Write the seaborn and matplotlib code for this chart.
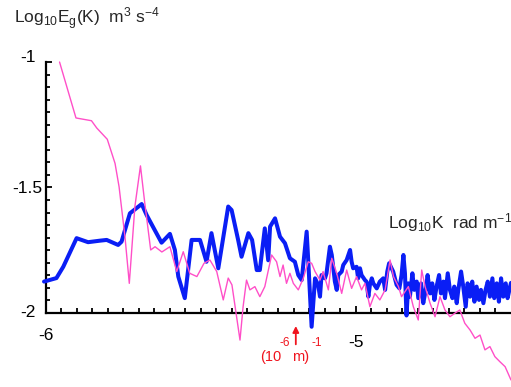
import numpy as np
import pandas as pd
import matplotlib
matplotlib.use("Agg")
import matplotlib.pyplot as plt
import matplotlib.transforms as mtransforms
from matplotlib.ticker import FixedLocator
import seaborn as sns

# ---- data (log10 K, log10 Eg) ----
blue_x = [-6.005, -5.965, -5.943, -5.900, -5.863, -5.825, -5.803, -5.766, -5.755, -5.728,
          -5.690, -5.674, -5.626, -5.599, -5.583, -5.572, -5.551, -5.529, -5.502, -5.481,
          -5.465, -5.443, -5.411, -5.400, -5.379, -5.368, -5.346, -5.334, -5.319, -5.309,
          -5.293, -5.282, -5.276, -5.260, -5.244, -5.228, -5.212, -5.196, -5.185, -5.174,
          -5.164, -5.158, -5.153, -5.142,
          -5.131, -5.121, -5.115, -5.110, -5.099, -5.094, -5.083, -5.077, -5.072, -5.067,
          -5.061, -5.056, -5.045, -5.040, -5.029, -5.018, -5.013, -5.008, -4.997, -4.992,
          -4.986, -4.981, -4.970, -4.965, -4.959, -4.954, -4.948, -4.943, -4.932, -4.922,
          -4.911, -4.905, -4.898, -4.892, -4.884, -4.879, -4.868, -4.859, -4.852, -4.846,
          -4.841,
          -4.836, -4.830, -4.825, -4.817, -4.811, -4.803, -4.798, -4.789, -4.782, -4.774,
          -4.768, -4.760, -4.753, -4.746, -4.739, -4.731, -4.725, -4.717, -4.712, -4.703,
          -4.696, -4.688, -4.682, -4.674, -4.669, -4.660, -4.653, -4.645, -4.639, -4.631,
          -4.624, -4.617, -4.610, -4.602, -4.596, -4.588, -4.581, -4.574, -4.567, -4.559,
          -4.553, -4.545, -4.538, -4.531, -4.524, -4.516, -4.510, -4.502, -4.499]
blue_y = [-1.875, -1.861, -1.816, -1.702, -1.718, -1.712, -1.709, -1.729, -1.716, -1.603,
          -1.566, -1.610, -1.720, -1.685, -1.749, -1.855, -1.941, -1.709, -1.709, -1.796,
          -1.682, -1.822, -1.576, -1.590, -1.709, -1.776, -1.682, -1.709, -1.829, -1.829,
          -1.663, -1.790, -1.656, -1.623, -1.696, -1.722, -1.782, -1.796, -1.849, -1.869,
          -1.749, -1.676, -1.789, -2.055,
          -1.862, -1.888, -1.935, -1.849, -1.862, -1.842, -1.736, -1.769, -1.822, -1.875,
          -1.908, -1.849, -1.835, -1.809, -1.789, -1.749, -1.796, -1.822, -1.816, -1.862,
          -1.822, -1.849, -1.869, -1.875, -1.935, -1.888, -1.862, -1.882, -1.902, -1.875,
          -1.862, -1.908, -1.835, -1.802, -1.822, -1.835, -1.888, -1.902, -1.849, -1.769,
          -1.842,
          -2.010, -1.882, -1.935, -1.842, -1.908, -1.875, -1.941, -1.882, -1.961, -1.908,
          -1.849, -1.922, -1.882, -1.948, -1.895, -1.849, -1.922, -1.875, -1.941, -1.842,
          -1.908, -1.941, -1.895, -1.961, -1.908, -1.835, -1.895, -1.975, -1.882, -1.935,
          -1.875, -1.955, -1.895, -1.948, -1.908, -1.961, -1.908, -1.875, -1.935, -1.862,
          -1.941, -1.882, -1.955, -1.862, -1.935, -1.882, -1.941, -1.895, -1.880]

pink_x = [-5.955, -5.902, -5.852, -5.835, -5.801, -5.776, -5.763, -5.744, -5.730, -5.712,
          -5.694, -5.680, -5.661, -5.647, -5.625, -5.599, -5.577, -5.556, -5.535, -5.512,
          -5.489, -5.470, -5.448, -5.427, -5.411, -5.399, -5.384, -5.373, -5.363, -5.352,
          -5.341, -5.325, -5.309, -5.293, -5.271, -5.255, -5.244, -5.234, -5.223, -5.212,
          -5.201, -5.185, -5.169, -5.153, -5.142, -5.131, -5.115, -5.105, -5.088, -5.077,
          -5.061, -5.045, -5.029, -5.013, -4.997, -4.981, -4.970, -4.954, -4.938, -4.922,
          -4.905, -4.889, -4.878, -4.862, -4.852, -4.830, -4.814, -4.798, -4.787, -4.776,
          -4.760, -4.744, -4.728, -4.712, -4.696, -4.680, -4.664, -4.648, -4.631, -4.615,
          -4.599, -4.583, -4.567, -4.551, -4.535, -4.518, -4.499]
pink_y = [-1.000, -1.223, -1.234, -1.263, -1.308, -1.404, -1.497, -1.696, -1.882, -1.576,
          -1.414, -1.563, -1.749, -1.736, -1.757, -1.736, -1.835, -1.756, -1.842, -1.855,
          -1.802, -1.789, -1.835, -1.948, -1.861, -1.888, -2.015, -2.108, -1.975, -1.869,
          -1.908, -1.895, -1.935, -1.895, -1.769, -1.796, -1.855, -1.809, -1.882, -1.842,
          -1.882, -1.908, -1.862, -1.796, -1.802, -1.835, -1.869, -1.835, -1.908, -1.782,
          -1.842, -1.922, -1.829, -1.902, -1.855, -1.908, -1.882, -1.975, -1.922, -1.948,
          -1.908, -1.789, -1.855, -1.895, -1.935, -1.895, -1.975, -2.028, -1.829, -1.895,
          -1.961, -2.015, -1.935, -1.988, -2.015, -2.001, -1.988, -2.041, -2.068, -2.101,
          -2.088, -2.147, -2.134, -2.174, -2.194, -2.214, -2.267]

y_ticks = [-2, -1.5, -1]
y_tick_labels = ["-2", "-1.5", "-1"]
x_ticks = [-6, -5]
x_tick_labels = ["-6", "-5"]
arrow_x = -5.193

BLUE = "#0a1ef5"
PINK = "#ff4fc8"
RED = "#f0141e"

sns.set_style("white")
plt.rcParams["font.family"] = ["Liberation Sans", "DejaVu Sans"]
plt.rcParams["mathtext.fontset"] = "custom"
plt.rcParams["mathtext.rm"] = "Liberation Sans"
plt.rcParams["mathtext.it"] = "Liberation Sans:italic"
plt.rcParams["mathtext.bf"] = "Liberation Sans:bold"

fig = plt.figure(figsize=(5.11, 3.87), dpi=100)
ax = fig.add_axes([0, 0, 1, 1])
ax.set_facecolor("white")

dfb = pd.DataFrame({"x": blue_x, "y": blue_y})
dfp = pd.DataFrame({"x": pink_x, "y": pink_y})
sns.lineplot(data=dfb, x="x", y="y", ax=ax, color=BLUE, lw=2.9, sort=False,
             estimator=None, zorder=3)
sns.lineplot(data=dfp, x="x", y="y", ax=ax, color=PINK, lw=1.0, sort=False,
             estimator=None, zorder=4)

ax.set_xlim(-6.147, -4.499)
ax.set_ylim(-2.295, -0.753)
ax.set_xlabel("")
ax.set_ylabel("")

for s in ["top", "right"]:
    ax.spines[s].set_visible(False)
ax.spines["left"].set_position(("data", -6))
ax.spines["bottom"].set_position(("data", -2))
ax.spines["left"].set_bounds(-2, -1)
ax.spines["bottom"].set_bounds(-6, -4.499)
for s in ["left", "bottom"]:
    ax.spines[s].set_color("black")
    ax.spines[s].set_linewidth(1.6)
    ax.spines[s].set_zorder(2)

ax.set_yticks(y_ticks)
ax.set_yticklabels(y_tick_labels)
ax.set_xticks(x_ticks)
ax.set_xticklabels(x_tick_labels)
# minor ticks only along the drawn parts of the axes
ax.yaxis.set_minor_locator(FixedLocator([-2 + 0.05 * i for i in range(1, 20)]))
ax.xaxis.set_minor_locator(FixedLocator([-6 + 0.05 * i for i in range(1, 30)]))
ax.tick_params(axis="both", which="both", direction="in", colors="black",
               labelsize=12.5, width=1.3, bottom=True, left=True,
               top=False, right=False)
ax.tick_params(axis="y", which="major", length=4, pad=13)
ax.tick_params(axis="y", which="minor", length=3)
ax.tick_params(axis="x", which="major", length=5, pad=11)
ax.tick_params(axis="x", which="minor", length=3.5)

for lab in ax.get_yticklabels():
    lab.set_horizontalalignment("center")
    if lab.get_text() == "-1":
        lab.set_transform(lab.get_transform() +
                          mtransforms.ScaledTranslation(0, 6 / 100, fig.dpi_scale_trans))
    if lab.get_text() == "-2":
        lab.set_transform(lab.get_transform() +
                          mtransforms.ScaledTranslation(0, 2 / 100, fig.dpi_scale_trans))

# shift the "-5" label down a bit like the reference
for lab in ax.get_xticklabels():
    if lab.get_text() == "-5":
        lab.set_transform(lab.get_transform() +
                          mtransforms.ScaledTranslation(0, -7 / 100, fig.dpi_scale_trans))

# axis titles
ax.text(14 / 511, 1 - 24 / 387, r"Log$_{10}$E$_\mathrm{g}$(K)  m$^3$ s$^{-4}$",
        transform=ax.transAxes, fontsize=12.5, ha="left", va="baseline")
ax.text(388 / 511, 1 - 228 / 387, r"Log$_{10}$K  rad m$^{-1}$",
        transform=ax.transAxes, fontsize=12.5, ha="left", va="baseline")

# red arrow annotation
ax.annotate("", xy=(arrow_x, -2.052), xytext=(arrow_x, -2.125),
            arrowprops=dict(arrowstyle="-|>", color=RED, lw=1.3,
                            mutation_scale=9, shrinkA=0, shrinkB=0))
ax.text(260 / 511, 1 - 361 / 387, "(10", transform=ax.transAxes, color=RED,
        fontsize=10.5, ha="left", va="baseline")
ax.text(279 / 511, 1 - 346 / 387, "-6", transform=ax.transAxes, color=RED,
        fontsize=8.5, ha="left", va="baseline")
ax.text(292 / 511, 1 - 361 / 387, "m)", transform=ax.transAxes, color=RED,
        fontsize=10.5, ha="left", va="baseline")
ax.text(311 / 511, 1 - 346 / 387, "-1", transform=ax.transAxes, color=RED,
        fontsize=8.5, ha="left", va="baseline")

fig.savefig("out.png", dpi=100)
